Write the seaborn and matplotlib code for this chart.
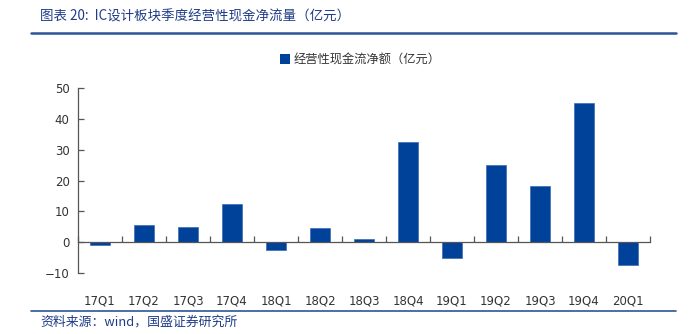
import matplotlib
matplotlib.use("Agg")
import matplotlib.pyplot as plt
import seaborn as sns
import pandas as pd
import numpy as np
from matplotlib.patches import Patch
from matplotlib.lines import Line2D
from matplotlib.ticker import FixedLocator

categories = ["17Q1", "17Q2", "17Q3", "17Q4", "18Q1", "18Q2", "18Q3", "18Q4",
              "19Q1", "19Q2", "19Q3", "19Q4", "20Q1"]
values = [-0.8, 5.5, 4.9, 12.5, -2.6, 4.5, 1.0, 32.5, -5.1, 24.9, 18.1, 45.0, -7.3]
yticks = [-10, 0, 10, 20, 30, 40, 50]
series_name = "经营性现金流净额（亿元）"
title = "图表 20:  IC设计板块季度经营性现金净流量（亿元）"
source = "资料来源：wind，国盛证券研究所"

sns.set_theme(style="white")
plt.rcParams['font.family'] = ['Noto Sans CJK SC', 'DejaVu Sans']

bar_color = "#00419A"
line_color = "#2B5597"
text_color = "#333333"

df = pd.DataFrame({"q": categories, "v": values})

fig = plt.figure(figsize=(6.95, 3.34), dpi=100)
ax = fig.add_axes([78 / 695, 1 - 273 / 334, (650 - 78) / 695, (273 - 88) / 334])

sns.barplot(data=df, x="q", y="v", color=bar_color, width=0.45, ax=ax,
            saturation=1, edgecolor="#3D6BB0", linewidth=0.5)

ax.set_xlim(-0.5, len(categories) - 0.5)
ax.set_ylim(-10, 50)
ax.set_xlabel("")
ax.set_ylabel("")

for s in ["top", "right"]:
    ax.spines[s].set_visible(False)
ax.spines["bottom"].set_position(("data", 0))
ax.spines["bottom"].set_color("#555555")
ax.spines["bottom"].set_linewidth(0.9)
ax.spines["left"].set_color("#555555")
ax.spines["left"].set_linewidth(0.9)

ax.set_yticks(yticks)
ax.tick_params(axis="y", direction="in", length=4, width=0.9, color="#555555",
               labelsize=8.5, labelcolor=text_color, pad=6, left=True)
ax.xaxis.set_minor_locator(FixedLocator(np.arange(-0.5, len(categories), 1.0)))
ax.tick_params(axis="x", which="minor", direction="in", length=4, width=0.9,
               color="#555555", bottom=True)
ax.tick_params(axis="x", which="major", length=0, labelsize=8.5,
               labelcolor=text_color, pad=38)
for lbl in ax.get_yticklabels() + ax.get_xticklabels():
    lbl.set_family(["DejaVu Sans"])

# legend
handle = Patch(facecolor=bar_color, edgecolor="none")
fig.legend([handle], [series_name], loc="center", bbox_to_anchor=(360 / 695, 1 - 60 / 334),
           frameon=False, fontsize=8.8, handlelength=0.8, handleheight=0.9,
           handletextpad=0.3, labelcolor=text_color)

# title & header line
fig.text(40 / 695, 1 - 17 / 334, title, fontsize=9.7, color="#1F3C88",
         va="center", ha="left", style="italic")
fig.add_artist(Line2D([31 / 695, 676 / 695], [1 - 33.3 / 334] * 2,
                      color=line_color, lw=1.8, transform=fig.transFigure))
# footer
fig.add_artist(Line2D([31 / 695, 676 / 695], [1 - 311 / 334] * 2,
                      color=line_color, lw=1.2, transform=fig.transFigure))
fig.text(40 / 695, 1 - 322 / 334, source, fontsize=9.3, color="#1F3C88",
         va="center", ha="left", style="italic")

fig.savefig("out.png", dpi=100)
